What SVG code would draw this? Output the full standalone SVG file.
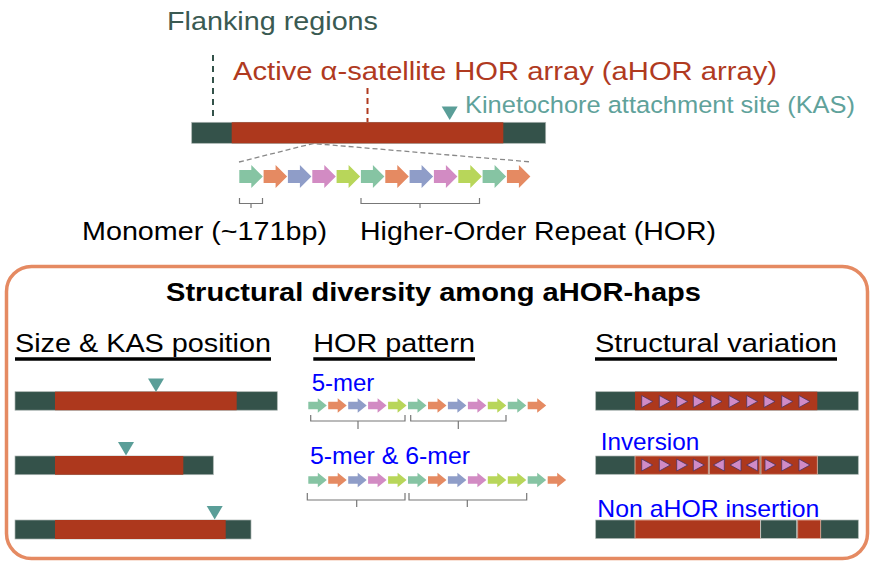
<svg xmlns="http://www.w3.org/2000/svg" xmlns:xlink="http://www.w3.org/1999/xlink" width="875" height="566" viewBox="0 0 875 566">
<style>
text{font-family:"Liberation Sans",Arial,sans-serif;}
.dk{fill:#34524a;stroke:#aab3b0;stroke-width:0.7;}
.rd{fill:#ad381d;}
.rds{fill:#ad381d;stroke:#e6b9a8;stroke-width:0.8;}
.kas{fill:#5a9e98;}
.g{fill:#86c4a3;}.o{fill:#e58a62;}.b{fill:#8f9dc8;}.p{fill:#d28bc3;}.l{fill:#b8d65a;}
.tri{fill:#d08bc6;stroke:#4a3560;stroke-width:0.8;}
.br{fill:none;stroke:#777;stroke-width:1.2;}
.blue{fill:#0000ff;font-size:24px;}
.hdr{font-size:26px;fill:#000;}
.ul{stroke:#000;stroke-width:3.4;}
.lbl{font-size:25.5px;fill:#000;}
</style>
<defs>
<path id="ab" d="M0,5 H12 V0 L23.5,11.5 L12,23 V18 H0 Z"/>
<path id="as" d="M0,3.5 H9.5 V0 L18.5,7.25 L9.5,14.5 V11 H0 Z"/>
<path id="tr" d="M0,0 L11,6 L0,12 Z"/>
<path id="tl" d="M11,0 L0,6 L11,12 Z"/>
<path id="kt" d="M0,0 H16 L8,13.5 Z"/>
</defs>

<g id="labels-top">
<text x="167" y="30" font-size="26.5" fill="#3a5a52" textLength="211" lengthAdjust="spacingAndGlyphs">Flanking regions</text>
<text x="233" y="80" font-size="26.5" fill="#b03a1f" textLength="544" lengthAdjust="spacingAndGlyphs">Active α-satellite HOR array (aHOR array)</text>
<text x="465" y="112.5" font-size="24.5" fill="#5fa29b" textLength="390" lengthAdjust="spacingAndGlyphs">Kinetochore attachment site (KAS)</text>
</g>

<g id="connectors">
<line x1="213" y1="55" x2="213" y2="118" stroke="#34524a" stroke-width="2" stroke-dasharray="6,5"/>
<line x1="367.5" y1="88" x2="367.5" y2="122" stroke="#b03a1f" stroke-width="2" stroke-dasharray="6,4"/>
<path d="M239,162 L313,143.5 L532,162" fill="none" stroke="#888" stroke-width="1.3" stroke-dasharray="5,3"/>
<path class="br" d="M239.5,198 V203.5 H262.5 V198 M251,203.5 V208"/>
<path class="br" d="M361,198 V203.5 H479.5 V198 M420,203.5 V208"/>
<path class="br" d="M310.7,415 V421 H405 V415 M358,421 V429"/>
<path class="br" d="M410.7,415 V421 H506 V415 M458.3,421 V429"/>
<path class="br" d="M307.3,493 V500 H405 V493 M356.7,500 V507"/>
<path class="br" d="M409,493 V500 H526.7 V493 M467.3,500 V507"/>
</g>

<g id="main-array">
<rect class="dk" x="191.7" y="122.3" width="354" height="21"/>
<rect class="rd" x="231.7" y="122.3" width="271.6" height="21"/>
<use href="#kt" class="kas" x="441.7" y="106.5"/>
</g>

<g id="monomers">
<use href="#ab" class="g" x="239.3" y="165"/>
<use href="#ab" class="o" x="263.6" y="165"/>
<use href="#ab" class="b" x="287.9" y="165"/>
<use href="#ab" class="p" x="312.3" y="165"/>
<use href="#ab" class="l" x="336.6" y="165"/>
<use href="#ab" class="g" x="360.9" y="165"/>
<use href="#ab" class="o" x="385.3" y="165"/>
<use href="#ab" class="b" x="409.6" y="165"/>
<use href="#ab" class="p" x="433.9" y="165"/>
<use href="#ab" class="l" x="458.3" y="165"/>
<use href="#ab" class="g" x="482.6" y="165"/>
<use href="#ab" class="o" x="506.9" y="165"/>
</g>

<g id="labels-mid">
<text class="lbl" x="82" y="240" textLength="245" lengthAdjust="spacingAndGlyphs">Monomer (~171bp)</text>
<text class="lbl" x="360" y="240" textLength="356" lengthAdjust="spacingAndGlyphs">Higher-Order Repeat (HOR)</text>
</g>

<g id="diversity-box">
<rect x="6.5" y="266.5" width="861" height="292" rx="25" ry="25" fill="none" stroke="#e58a62" stroke-width="3.5"/>
<text x="166" y="301" font-size="25" font-weight="bold" fill="#000" textLength="535" lengthAdjust="spacingAndGlyphs">Structural diversity among aHOR-haps</text>
</g>

<g id="size-kas">
<text class="hdr" x="15" y="352" textLength="256" lengthAdjust="spacingAndGlyphs">Size &amp; KAS position</text>
<line class="ul" x1="15" y1="359" x2="271" y2="359"/>
<rect class="dk" x="15" y="391.7" width="262.3" height="18.5"/>
<rect class="rd" x="55" y="391.7" width="181.7" height="18.5"/>
<use href="#kt" class="kas" x="148" y="378.5"/>
<rect class="dk" x="15" y="456" width="198.3" height="18.7"/>
<rect class="rd" x="55" y="456" width="128.3" height="18.7"/>
<use href="#kt" class="kas" x="118" y="442"/>
<rect class="dk" x="15" y="520" width="236" height="19"/>
<rect class="rd" x="55" y="520" width="170.7" height="19"/>
<use href="#kt" class="kas" x="206.7" y="506"/>
</g>

<g id="hor-pattern">
<text class="hdr" x="313.3" y="352" textLength="161.7" lengthAdjust="spacingAndGlyphs">HOR pattern</text>
<line class="ul" x1="313.3" y1="359" x2="475" y2="359"/>
<text class="blue" x="311.7" y="390.7">5-mer</text>
<use href="#as" class="g" x="308.3" y="398.3"/>
<use href="#as" class="o" x="328.2" y="398.3"/>
<use href="#as" class="b" x="348.2" y="398.3"/>
<use href="#as" class="p" x="368.1" y="398.3"/>
<use href="#as" class="l" x="388.1" y="398.3"/>
<use href="#as" class="g" x="408" y="398.3"/>
<use href="#as" class="o" x="428" y="398.3"/>
<use href="#as" class="b" x="447.9" y="398.3"/>
<use href="#as" class="p" x="467.9" y="398.3"/>
<use href="#as" class="l" x="487.8" y="398.3"/>
<use href="#as" class="g" x="507.8" y="398.3"/>
<use href="#as" class="o" x="527.7" y="398.3"/>
<text class="blue" x="310" y="464" textLength="160" lengthAdjust="spacingAndGlyphs">5-mer &amp; 6-mer</text>
<use href="#as" class="g" x="308.3" y="472.7"/>
<use href="#as" class="o" x="328.2" y="472.7"/>
<use href="#as" class="b" x="348.2" y="472.7"/>
<use href="#as" class="p" x="368.1" y="472.7"/>
<use href="#as" class="l" x="388.1" y="472.7"/>
<use href="#as" class="g" x="408" y="472.7"/>
<use href="#as" class="o" x="428" y="472.7"/>
<use href="#as" class="b" x="447.9" y="472.7"/>
<use href="#as" class="p" x="467.9" y="472.7"/>
<use href="#as" class="l" x="487.8" y="472.7"/>
<use href="#as" class="l" x="507.8" y="472.7"/>
<use href="#as" class="g" x="527.7" y="472.7"/>
<use href="#as" class="o" x="547.7" y="472.7"/>
</g>

<g id="structural-variation">
<text class="hdr" x="595" y="352" textLength="242" lengthAdjust="spacingAndGlyphs">Structural variation</text>
<line class="ul" x1="595" y1="359" x2="837" y2="359"/>
<rect class="dk" x="595.7" y="391.7" width="262.6" height="18.5"/>
<rect class="rd" x="635" y="391.7" width="182.3" height="18.5"/>
<use href="#tr" class="tri" x="641.7" y="395.5"/>
<use href="#tr" class="tri" x="659.3" y="395.5"/>
<use href="#tr" class="tri" x="676.7" y="395.5"/>
<use href="#tr" class="tri" x="693.3" y="395.5"/>
<use href="#tr" class="tri" x="711" y="395.5"/>
<use href="#tr" class="tri" x="729" y="395.5"/>
<use href="#tr" class="tri" x="746.7" y="395.5"/>
<use href="#tr" class="tri" x="764" y="395.5"/>
<use href="#tr" class="tri" x="781.7" y="395.5"/>
<use href="#tr" class="tri" x="799" y="395.5"/>

<text class="blue" x="600.7" y="450" textLength="98.6" lengthAdjust="spacingAndGlyphs">Inversion</text>
<rect class="dk" x="595.7" y="456" width="262.6" height="18.3"/>
<rect class="rds" x="635" y="456" width="73.3" height="18.3"/>
<rect class="rds" x="709.3" y="456" width="50.7" height="18.3"/>
<rect class="rds" x="761" y="456" width="56.3" height="18.3"/>
<use href="#tr" class="tri" x="641.7" y="459"/>
<use href="#tr" class="tri" x="659.3" y="459"/>
<use href="#tr" class="tri" x="676.7" y="459"/>
<use href="#tr" class="tri" x="693.3" y="459"/>
<use href="#tl" class="tri" x="713.3" y="459"/>
<use href="#tl" class="tri" x="730" y="459"/>
<use href="#tl" class="tri" x="746.7" y="459"/>
<use href="#tr" class="tri" x="765" y="459"/>
<use href="#tr" class="tri" x="781.7" y="459"/>
<use href="#tr" class="tri" x="799" y="459"/>

<text class="blue" x="597.3" y="516.7" textLength="222" lengthAdjust="spacingAndGlyphs">Non aHOR insertion</text>
<rect class="dk" x="595.7" y="520" width="262.6" height="18.5"/>
<rect class="rds" x="635" y="520" width="125.7" height="18.5"/>
<rect class="dk" x="760.7" y="520" width="36" height="18.5" style="stroke:#d9dcdb"/>
<rect class="rds" x="797.7" y="520" width="23" height="18.5"/>
</g>
</svg>
